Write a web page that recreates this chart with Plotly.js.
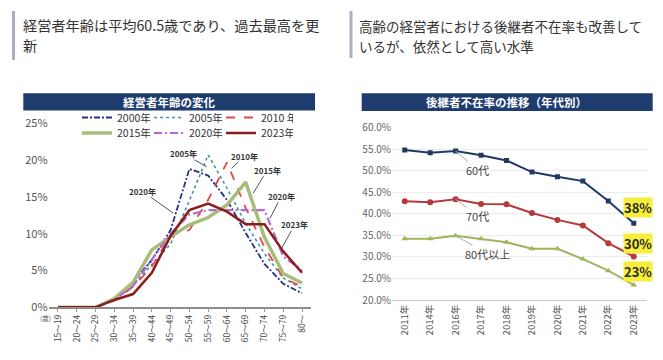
<!DOCTYPE html>
<html><head><meta charset="utf-8">
<script src="https://cdn.plot.ly/plotly-3.0.1.min.js"></script>
<style>html,body{margin:0;padding:0;background:#fff;}#chart{width:663px;height:360px;}</style>
</head><body><div id="chart"></div>
<script>
// ---- Left chart: 経営者年齢の変化 ----
const ageGroups = ["15～19","20～24","25～29","30～34","35～39","40～44","45～49","50～54","55～59","60～64","65～69","70～74","75～79","80～"];
const share2000 = [0,0,0,1.2,3.5,6.4,10.5,18.8,17.9,14.6,10.1,5.9,3.2,1.9];
const share2005 = [0,0,0,1.0,3.0,5.8,8.6,14.5,20.7,16.2,11.4,7.3,4.0,2.5];
const share2010 = [0,0,0,0.9,2.8,5.5,9.8,10.5,14.6,19.7,13.5,8.2,4.0,2.8];
const share2015 = [0,0,0,1.2,3.4,7.8,9.6,11.2,12.2,13.9,17.0,9.5,4.6,3.3];
const share2020 = [0,0,0,1.0,2.9,6.5,10.0,12.6,13.2,13.2,13.2,13.2,6.9,5.0];
const share2023 = [0,0,0,1.0,1.8,4.7,9.7,13.2,14.1,13.0,11.3,11.3,7.6,4.7];
const seriesNames = ["2000年","2005年","2010 年","2015年","2020年","2023年"];

// ---- Right chart: 後継者不在率の推移（年代別） ----
const years = ["2011年","2014年","2016年","2017年","2018年","2019年","2020年","2021年","2022年","2023年"];
const rate60s = [54.8,54.2,54.6,53.6,52.4,49.7,48.6,47.6,43.0,37.8];
const rate70s = [42.9,42.7,43.4,42.3,42.2,40.2,38.6,37.3,33.2,30.1];
const rate80s = [34.2,34.2,34.9,34.2,33.4,31.9,31.9,29.5,26.8,23.5];
const ageBands = ["60代","70代","80代以上"];
const latestLabels = ["38%","30%","23%"];

const W = 663, H = 360;
const px = v => v / W, py = v => 1 - v / H;
const FONT = "Noto Sans CJK JP, Noto Sans, sans-serif";

const leftStyles = [
  {color:"#2a2f8f", width:1.8, dash:"6px,2px,2px,2px", legend:"legend"},
  {color:"#3d97a6", width:1.6, dash:"dot", legend:"legend"},
  {color:"#e3474a", width:1.8, dash:"dash", legend:"legend"},
  {color:"#a7bd7b", width:3.5, dash:"solid", legend:"legend2"},
  {color:"#b36bd4", width:2.2, dash:"8px,3px,2px,3px", legend:"legend2"},
  {color:"#8c1d1d", width:2.5, dash:"solid", legend:"legend2"}
];
const leftSeries = [share2000, share2005, share2010, share2015, share2020, share2023];

const traces = leftSeries.map((vals, i) => ({
  type:"scatter", mode:"lines", x: ageGroups, y: vals, name: seriesNames[i],
  xaxis:"x", yaxis:"y", legend: leftStyles[i].legend,
  line:{color:leftStyles[i].color, width:leftStyles[i].width, dash:leftStyles[i].dash},
  hoverinfo:"skip"
}));

const rightSeries = [rate60s, rate70s, rate80s];
const rightStyles = [
  {color:"#1f3a63", symbol:"square", size:5},
  {color:"#b53a3a", symbol:"circle", size:6},
  {color:"#9fb55c", symbol:"triangle-up", size:6}
];
rightSeries.forEach((vals, i) => traces.push({
  type:"scatter", mode:"lines+markers", x: years, y: vals, name: ageBands[i],
  xaxis:"x2", yaxis:"y2", showlegend:false,
  line:{color:rightStyles[i].color, width:2},
  marker:{color:rightStyles[i].color, symbol:rightStyles[i].symbol, size:rightStyles[i].size},
  hoverinfo:"skip"
}));

const annotations = [
  {xref:"paper", yref:"paper", x:px(21), y:py(25), xanchor:"left", yanchor:"middle", showarrow:false,
   text:"経営者年齢は平均60.5歳であり、過去最高を更", font:{size:14.2, color:"#333"}},
  {xref:"paper", yref:"paper", x:px(21), y:py(45), xanchor:"left", yanchor:"middle", showarrow:false,
   text:"新", font:{size:14.2, color:"#333"}},
  {xref:"paper", yref:"paper", x:px(357), y:py(26.5), xanchor:"left", yanchor:"middle", showarrow:false,
   text:"高齢の経営者における後継者不在率も改善して", font:{size:13.5, color:"#333"}},
  {xref:"paper", yref:"paper", x:px(357), y:py(46), xanchor:"left", yanchor:"middle", showarrow:false,
   text:"いるが、依然として高い水準", font:{size:13.5, color:"#333"}},
  {xref:"paper", yref:"paper", x:px(169), y:py(102), xanchor:"center", yanchor:"middle", showarrow:false,
   text:"<b>経営者年齢の変化</b>", font:{size:11.5, color:"#fff"}},
  {xref:"paper", yref:"paper", x:px(507), y:py(102), xanchor:"center", yanchor:"middle", showarrow:false,
   text:"<b>後継者不在率の推移（年代別）</b>", font:{size:11.5, color:"#fff"}},
  {xref:"paper", yref:"paper", x:px(45.5), y:py(318), xanchor:"center", yanchor:"middle", showarrow:false,
   text:"(歳)", font:{size:6.5, color:"#555"}}
];

// left chart callouts
const leftCallouts = [
  {t:"2005年", x:7.92, y:19.1, ax:-23, ay:-13},
  {t:"2010年", x:9.25, y:18.9, ax:13, ay:-12},
  {t:"2015年", x:10.4, y:15.5, ax:14, ay:-23},
  {t:"2020年", x:11.3, y:12.1, ax:11, ay:-22},
  {t:"2023年", x:11.92, y:8.06, ax:13, ay:-23},
  {t:"2020年", x:6.14, y:12.8, ax:-31, ay:-22}
];
leftCallouts.forEach(c => annotations.push({
  xref:"x", yref:"y", x:c.x, y:c.y, ax:c.ax, ay:c.ay, text:"<b>"+c.t+"</b>",
  showarrow:true, arrowhead:0, arrowwidth:1, arrowcolor:"#555",
  font:{size:8, color:"#333"}, borderpad:0
}));

// right chart series labels
const bandLabelOffsets = [{ax:22, ay:19}, {ax:22, ay:17}, {ax:32, ay:18}];
rightSeries.forEach((vals, i) => annotations.push({
  xref:"x2", yref:"y2", x:2, y:vals[2], ax:bandLabelOffsets[i].ax, ay:bandLabelOffsets[i].ay,
  text:ageBands[i], showarrow:true, arrowhead:0, arrowwidth:1, arrowcolor:"#aaa",
  font:{size:11, color:"#444"}, borderpad:0
}));
const latestShift = [16, 13, 13];
rightSeries.forEach((vals, i) => annotations.push({
  xref:"x2", yref:"y2", x:vals.length-1, y:vals[vals.length-1], showarrow:false,
  xshift:4, yshift:latestShift[i], text:latestLabels[i], bgcolor:"#f6ee3a", borderpad:0,
  font:{size:13, color:"#2b2b2b", weight:"bold"}
}));

const shapes = [
  {type:"rect", xref:"paper", yref:"paper", x0:px(12), x1:px(15), y0:py(60), y1:py(11), fillcolor:"#a9b0c0", line:{width:0}},
  {type:"rect", xref:"paper", yref:"paper", x0:px(349.5), x1:px(352.5), y0:py(58), y1:py(11), fillcolor:"#a9b0c0", line:{width:0}},
  {type:"rect", xref:"paper", yref:"paper", x0:px(23.3), x1:px(315), y0:py(110.5), y1:py(93.3), fillcolor:"#1f3c6f", line:{width:0}},
  {type:"rect", xref:"paper", yref:"paper", x0:px(361.7), x1:px(652.7), y0:py(111), y1:py(93.3), fillcolor:"#1f3c6f", line:{width:0}}
];

const legendBase = {orientation:"h", x:px(77), xanchor:"left", yanchor:"middle",
  font:{size:10.5, color:"#333"}, entrywidth:27, bgcolor:"rgba(0,0,0,0)", itemwidth:30, tracegroupgap:0};

const layout = {
  width:W, height:H, margin:{l:0,r:0,t:0,b:0},
  paper_bgcolor:"#fff", plot_bgcolor:"rgba(0,0,0,0)",
  font:{family:FONT, color:"#444"},
  xaxis:{domain:[px(48.6), px(311.4)], type:"category", range:[-0.5,13.5], anchor:"y",
    tickangle:-90, tickfont:{size:8.5, color:"#444"}, showline:true, linecolor:"#8c8c8c", linewidth:1.2,
    ticks:"outside", ticklen:3, tickcolor:"#999", showgrid:false, zeroline:false, fixedrange:true},
  yaxis:{domain:[py(307.3), py(123.3)], range:[0,25], dtick:5, ticksuffix:"%", anchor:"x",
    showgrid:false, zeroline:false, showline:false, tickfont:{size:11, color:"#555"}, fixedrange:true},
  xaxis2:{domain:[px(392), px(646.5)], type:"category", range:[-0.5,9.5], anchor:"y2",
    tickangle:-90, tickfont:{size:9.5, color:"#555"}, showline:true, linecolor:"#c8c8c8",
    showgrid:false, zeroline:false, ticks:"", fixedrange:true},
  yaxis2:{domain:[py(300), py(127.7)], range:[20,60], dtick:5, tickformat:".1f", ticksuffix:"%", anchor:"x2",
    gridcolor:"#ececec", zeroline:false, showline:false, tickfont:{size:10, color:"#666"}, fixedrange:true},
  legend:Object.assign({}, legendBase, {y:py(117.5)}),
  legend2:Object.assign({}, legendBase, {y:py(133)}),
  annotations:annotations, shapes:shapes, showlegend:true
};

Plotly.newPlot("chart", traces, layout, {displayModeBar:false, staticPlot:true});
</script>
</body></html>
